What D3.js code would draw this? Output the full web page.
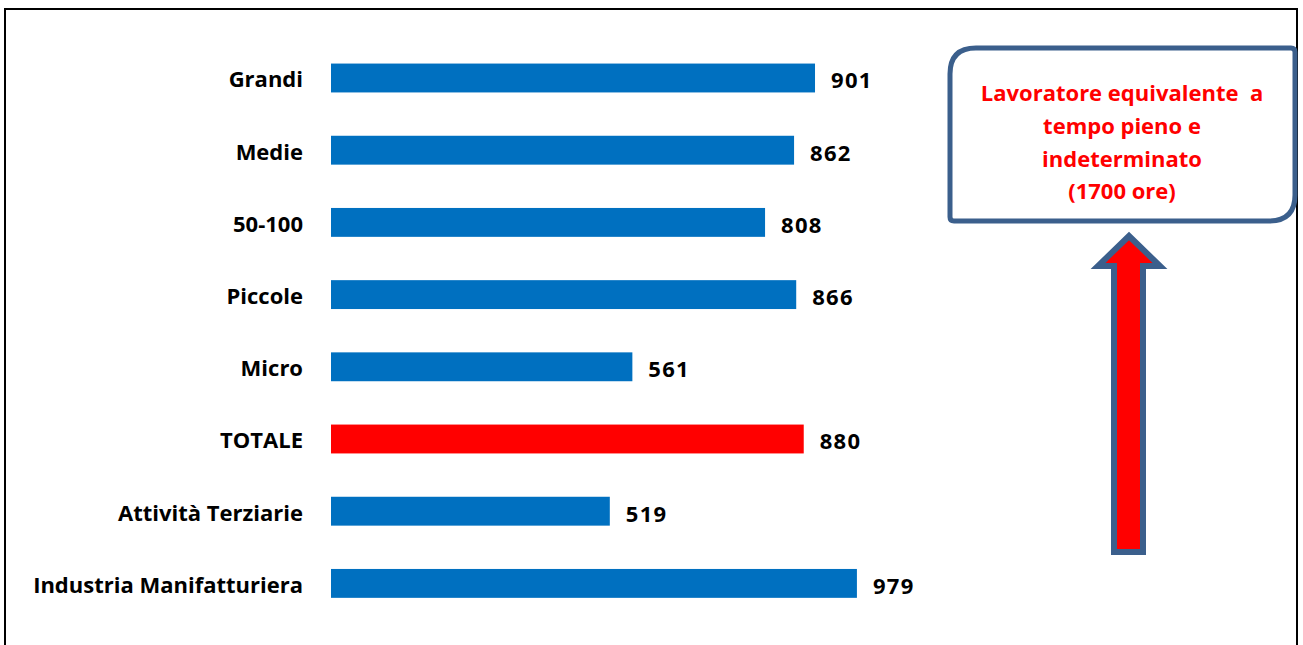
<!DOCTYPE html>
<html>
<head>
<meta charset="utf-8">
<script src="https://cdn.jsdelivr.net/npm/d3@7"></script>
<style>
  html, body { margin: 0; padding: 0; background: #fff; }
  svg { display: block; }
</style>
</head>
<body>
<svg id="chart" width="1303" height="645"></svg>
<script>
const categories = ["Grandi", "Medie", "50-100", "Piccole", "Micro", "TOTALE", "Attività Terziarie", "Industria Manifatturiera"];
const values = [901, 862, 808, 866, 561, 880, 519, 979];
const highlight = ["TOTALE"];
const boxLines = ["Lavoratore equivalente  a", "tempo pieno e", "indeterminato", "(1700 ore)"];

const svg = d3.select("#chart");
const font = "'Open Sans', Lato, sans-serif";

// outer frame
svg.append("rect").attr("x", 5).attr("y", 9).attr("width", 1292).attr("height", 650)
  .attr("fill", "none").attr("stroke", "#000").attr("stroke-width", 2);

const x = d3.scaleLinear().domain([0, 1000]).range([331, 331 + 537.2]);
const y = d3.scaleBand().domain(categories).range([41.9, 619.5]).paddingInner(0.6).paddingOuter(0.3);

const g = svg.append("g");
g.selectAll("rect.bar").data(categories).join("rect")
  .attr("class", "bar")
  .attr("x", x(0))
  .attr("y", d => y(d))
  .attr("width", (d, i) => x(values[i]) - x(0))
  .attr("height", y.bandwidth())
  .attr("fill", d => highlight.includes(d) ? "#FF0000" : "#0070C0");

g.selectAll("text.cat").data(categories).join("text")
  .attr("class", "cat")
  .attr("x", 303)
  .attr("y", d => y(d) + y.bandwidth() / 2 + 1.5)
  .attr("dy", "0.36em")
  .attr("text-anchor", "end")
  .attr("font-family", font)
  .attr("font-weight", "bold")
  .attr("font-size", 22)
  .attr("fill", "#000")
  .text(d => d);

g.selectAll("text.val").data(categories).join("text")
  .attr("class", "val")
  .attr("x", (d, i) => x(values[i]) + 16)
  .attr("y", d => y(d) + y.bandwidth() / 2 + 2.5)
  .attr("dy", "0.36em")
  .attr("font-family", font)
  .attr("font-weight", "bold")
  .attr("font-size", 22)
  .attr("letter-spacing", 1.3)
  .attr("fill", "#000")
  .text((d, i) => values[i]);

// callout box (round diagonal corners)
const bx0 = 950, by0 = 48, bx1 = 1295, by1 = 221, R = 26, r = 4;
const p = d3.path();
p.moveTo(bx0 + R, by0);
p.lineTo(bx1 - r, by0);
p.quadraticCurveTo(bx1, by0, bx1, by0 + r);
p.lineTo(bx1, by1 - R);
p.quadraticCurveTo(bx1, by1, bx1 - R, by1);
p.lineTo(bx0 + r, by1);
p.quadraticCurveTo(bx0, by1, bx0, by1 - r);
p.lineTo(bx0, by0 + R);
p.quadraticCurveTo(bx0, by0, bx0 + R, by0);
p.closePath();
svg.append("path").attr("d", p.toString())
  .attr("fill", "#fff").attr("stroke", "#3B5F8C").attr("stroke-width", 5);

svg.append("g").selectAll("text").data(boxLines).join("text")
  .attr("x", 1122)
  .attr("y", (d, i) => 93 + i * 32.8)
  .attr("dy", "0.36em")
  .attr("text-anchor", "middle")
  .attr("font-family", font)
  .attr("font-weight", "bold")
  .attr("font-size", 22)
  .attr("fill", "#FF0000")
  .attr("xml:space", "preserve")
  .style("white-space", "pre")
  .text(d => d);

// arrow
const arrow = [[1129, 236], [1160, 266], [1143, 266], [1143, 552], [1114, 552], [1114, 266], [1098, 266]];
svg.append("path")
  .attr("d", d3.line()(arrow) + "Z")
  .attr("fill", "#FF0000")
  .attr("stroke", "#3B5F8C")
  .attr("stroke-width", 6)
  .attr("stroke-linejoin", "miter");
</script>
</body>
</html>
